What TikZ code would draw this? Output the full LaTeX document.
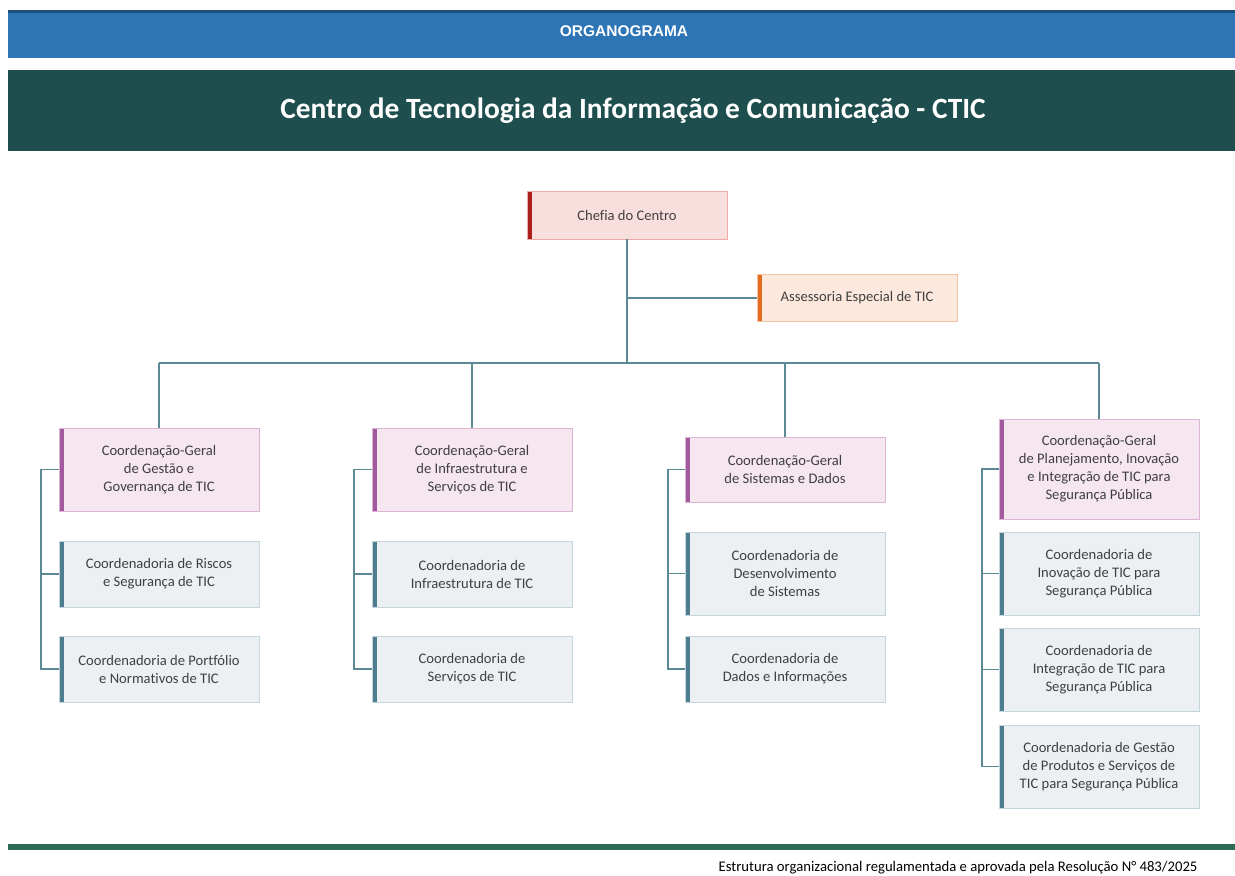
\documentclass[tikz,border=0pt]{standalone}
\usepackage{fontspec}
\setmainfont{Carlito}[Ligatures=NoCommon]
\newfontfamily\arialfont{Liberation Sans}
\usetikzlibrary{calc,positioning}

\definecolor{barrazul}{HTML}{2E75B6}
\definecolor{barrtopo}{HTML}{1F4E79}
\definecolor{faixaverde}{HTML}{1F4E4F}
\definecolor{rodape}{HTML}{2E6B55}
\definecolor{linhacor}{HTML}{5B8A94}
\definecolor{textocor}{HTML}{404040}
\definecolor{chefefundo}{HTML}{F9DEDE}
\definecolor{chefeborda}{HTML}{F0A8A8}
\definecolor{chefetira}{HTML}{AC1F1F}
\definecolor{assesfundo}{HTML}{FCE8DC}
\definecolor{assesborda}{HTML}{F4C3A3}
\definecolor{asestira}{HTML}{E46C1E}
\definecolor{geralfundo}{HTML}{F5E6F0}
\definecolor{geralborda}{HTML}{DDB5D4}
\definecolor{geraltira}{HTML}{A15A9E}
\definecolor{coordfundo}{HTML}{ECF0F3}
\definecolor{coordborda}{HTML}{C5D5DD}
\definecolor{coordtira}{HTML}{4E7D8F}

\begin{document}
\begin{tikzpicture}[x=1pt,y=-1pt,
  caixa/.style={rectangle, minimum width=200pt, align=center, text=textocor,
    font=\fontsize{14.6}{18}\selectfont, line width=0.8pt},
  chefe/.style={caixa, minimum height=48pt, fill=chefefundo, draw=chefeborda,
    path picture={\fill[chefetira] (path picture bounding box.south west) rectangle ([xshift=5pt]path picture bounding box.north west);}},
  assessor/.style={caixa, minimum height=47pt, fill=assesfundo, draw=assesborda,
    path picture={\fill[asestira] (path picture bounding box.south west) rectangle ([xshift=5pt]path picture bounding box.north west);}},
  geral/.style={caixa, fill=geralfundo, draw=geralborda,
    path picture={\fill[geraltira] (path picture bounding box.south west) rectangle ([xshift=5pt]path picture bounding box.north west);}},
  coord/.style={caixa, fill=coordfundo, draw=coordborda,
    path picture={\fill[coordtira] (path picture bounding box.south west) rectangle ([xshift=5pt]path picture bounding box.north west);}},
  linha/.style={draw=linhacor, line width=1.8pt}]

  \useasboundingbox (0,0) rectangle (1235,876);
  \fill[white] (0,0) rectangle (1235,876);

  % faixas do topo
  \fill[barrazul] (8,10) rectangle (1235,58);
  \fill[barrtopo] (8,10) rectangle (1235,13);
  \node[text=white, font=\arialfont\bfseries\fontsize{15.5}{17}\selectfont] (organo) at (624,31) {ORGANOGRAMA};
  \fill[faixaverde] (8,70) rectangle (1235,151);
  \node[text=white, font=\bfseries\fontsize{29.4}{32}\selectfont] (titulo) at (633,111) {Centro de Tecnologia da Informação e Comunicação - CTIC};

  % chefia e assessoria
  \node[chefe] (chefia) at (627,215) {Chefia do Centro};
  \node[assessor] (assessoria) at (857,298) {Assessoria Especial de TIC};

  % coordenacoes-gerais
  \node[geral, minimum height=83pt] (cg1) at (159,469.5) {Coordenação-Geral\\de Gestão e\\Governança de TIC};
  \node[geral, minimum height=83pt] (cg2) at (472,469.5) {Coordenação-Geral\\de Infraestrutura e\\Serviços de TIC};
  \node[geral, minimum height=65pt] (cg3) at (785,469.5) {Coordenação-Geral\\de Sistemas e Dados};
  \node[geral, minimum height=100pt] (cg4) at (1099,469) {Coordenação-Geral\\de Planejamento, Inovação\\e Integração de TIC para\\Segurança Pública};

  % coordenadorias
  \node[coord, minimum height=66pt] (c11) at (159,574) {Coordenadoria de Riscos\\e Segurança de TIC};
  \node[coord, minimum height=66pt] (c12) at (159,669) {Coordenadoria de Portfólio\\e Normativos de TIC};
  \node[coord, minimum height=66pt] (c21) at (472,574) {Coordenadoria de\\Infraestrutura de TIC};
  \node[coord, minimum height=66pt] (c22) at (472,669) {Coordenadoria de\\Serviços de TIC};
  \node[coord, minimum height=83pt] (c31) at (785,573.5) {Coordenadoria de\\Desenvolvimento\\de Sistemas};
  \node[coord, minimum height=66pt] (c32) at (785,669) {Coordenadoria de\\Dados e Informações};
  \node[coord, minimum height=83pt] (c41) at (1099,573.5) {Coordenadoria de\\Inovação de TIC para\\Segurança Pública};
  \node[coord, minimum height=83pt] (c42) at (1099,669.5) {Coordenadoria de\\Integração de TIC para\\Segurança Pública};
  \node[coord, minimum height=83pt] (c43) at (1099,766.5) {Coordenadoria de Gestão\\de Produtos e Serviços de\\TIC para Segurança Pública};

  % ligacoes
  \coordinate (barra) at (627,363);
  \draw[linha] (chefia.south) -- (barra);
  \draw[linha] (chefia.south |- assessoria.west) -- (assessoria.west);
  \draw[linha] (barra -| cg1.north) -- (barra -| cg4.north);
  \draw[linha] (barra -| cg1.north) -- (cg1.north);
  \draw[linha] (barra -| cg2.north) -- (cg2.north);
  \draw[linha] (barra -| cg3.north) -- (cg3.north);
  \draw[linha] (barra -| cg4.north) -- (cg4.north);

  \draw[linha] (cg1.west) -- ++(-18,0) |- (c12.west);
  \draw[linha] ([xshift=-18pt]cg1.west |- c11.west) -- (c11.west);
  \draw[linha] (cg2.west) -- ++(-18,0) |- (c22.west);
  \draw[linha] ([xshift=-18pt]cg2.west |- c21.west) -- (c21.west);
  \draw[linha] (cg3.west) -- ++(-17,0) |- (c32.west);
  \draw[linha] ([xshift=-17pt]cg3.west |- c31.west) -- (c31.west);
  \draw[linha] (cg4.west) -- ++(-17,0) |- (c43.west);
  \draw[linha] ([xshift=-17pt]cg4.west |- c41.west) -- (c41.west);
  \draw[linha] ([xshift=-17pt]cg4.west |- c42.west) -- (c42.west);

  % rodape
  \fill[rodape] (8,844) rectangle (1235,850);
  \node[anchor=base east, text=black, font=\fontsize{14.7}{16}\selectfont] (resolucao) at (1201,871.5) {Estrutura organizacional regulamentada e aprovada pela Resolução N° 483/2025};
\end{tikzpicture}
\end{document}
